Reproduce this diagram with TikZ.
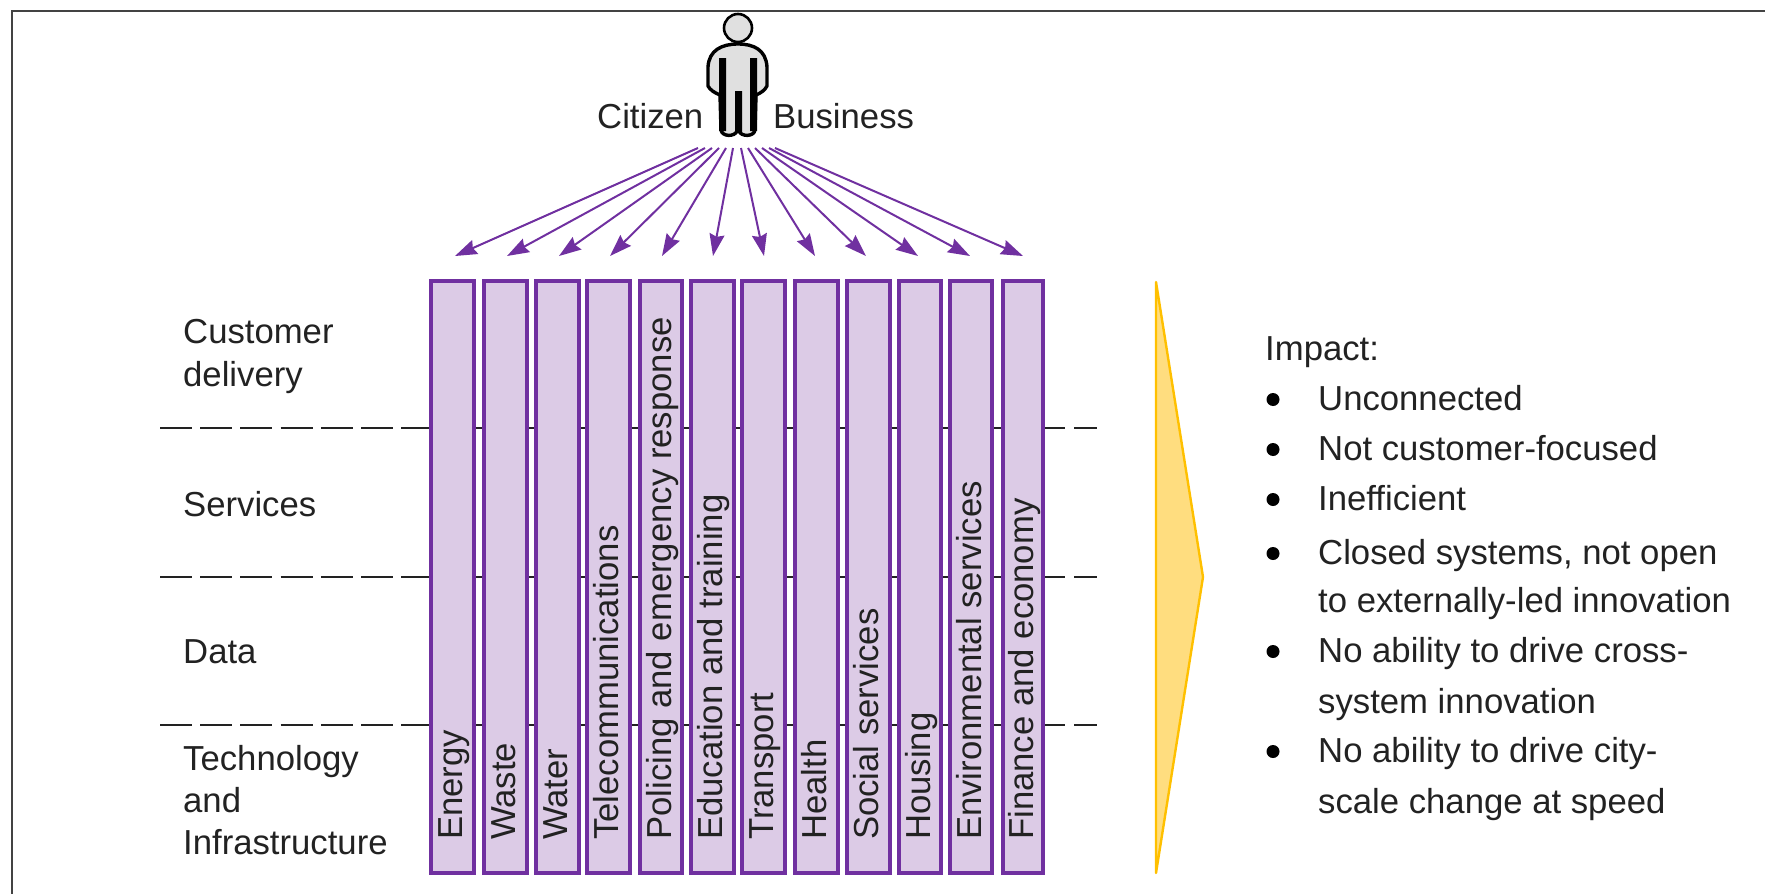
\documentclass[tikz,border=0pt]{standalone}
\usepackage{fontspec}
\setmainfont{Liberation Sans}
\usetikzlibrary{arrows.meta}
\definecolor{barline}{HTML}{7030A0}
\definecolor{barfill}{HTML}{DCCBE6}
\definecolor{goldline}{HTML}{FFC000}
\definecolor{goldfill}{HTML}{FFDD7F}
\definecolor{ink}{HTML}{222222}
\tikzset{
  lbl/.style={font=\fontsize{34.7}{42}\selectfont, text=ink, inner sep=0pt, anchor=base west},
  barbox/.style={draw=barline, line width=4pt, fill=barfill, minimum height=592pt, inner sep=0pt, anchor=north west},
  barlbl/.style={font=\fontsize{34.7}{42}\selectfont, text=ink, inner sep=0pt, rotate=90, anchor=west, text height=25pt, text depth=7.5pt},
  feed/.style={draw=barline, line width=2pt, -{Stealth[length=22pt,width=15pt,inset=2.5pt]}},
  divider/.style={draw=ink, line width=2pt},
  dashdiv/.style={divider, dash pattern=on 32pt off 8.2pt},
}
\begin{document}
\begin{tikzpicture}[x=1pt,y=-1pt]
\useasboundingbox (0,0) rectangle (1765,894);
\draw[draw=ink!85, line width=2.6pt] (1765,11) -- (12,11) -- (12,894);
% dividers
\foreach \y/\n in {428/a,577/b,725/c}{
  \coordinate (l\n) at (160,\y);
  \coordinate (m\n) at (430,\y);
  \coordinate (r\n) at (1045,\y);
  \coordinate (e\n) at (1097,\y);
  \draw[dashdiv] (l\n) -- (m\n);
  \draw[divider] (m\n) -- (r\n);
  \draw[divider, dash pattern=on 20pt off 9pt on 23pt off 9pt] (r\n) -- (e\n);
}
% bars
\foreach \i/\x/\w/\t in {
 1/428.5/43/Energy, 2/482/43/Waste, 3/533.5/43/Water, 4/584.5/43/Telecommunications,
 5/638/42/Policing and emergency response, 6/689/43/Education and training,
 7/739.5/43/Transport, 8/793/43/Health, 9/844.5/43/Social services, 10/897/42/Housing,
 11/948/42/Environmental services, 12/1001/40/Finance and economy}{
  \node[barbox, minimum width=\w pt] (bar\i) at (\x,279) {};
  \node[barlbl] (lab\i) at ([yshift=35pt,xshift=1.5pt]bar\i.south) {\t};
}
% person
\node[circle, draw=black, fill=black!12, line width=2.6pt, minimum size=28pt, inner sep=0pt] (head) at (738,28) {};
\filldraw[draw=black, fill=black!12, line width=3.4pt, line join=round]
  (738,44) .. controls (722,44) and (709,50) .. (708,67)
  -- (708,86) .. controls (710,90) and (715,93) .. (720,95)
  -- (721,130) .. controls (722,137) and (735,137) .. (737,131)
  -- (739,131) .. controls (741,137) and (754,137) .. (755,130)
  -- (756,95) .. controls (761,93) and (765,90) .. (767,86)
  -- (767,67) .. controls (766,50) and (754,44) .. (738,44) -- cycle;
\fill[black] (719,58) rectangle (726,131) (750,58) rectangle (757,131) (735,91) rectangle (742,132);
% person labels
\node[lbl] (cit) at (597,128) {Citizen};
\node[lbl] (bus) at (773,128) {Business};
% feed arrows
\foreach \i/\sx/\ex in {1/698/455,2/705/507,3/712/559,4/719/610,5/726/662,6/733/713,
 7/741/764,8/748/815,9/755/866,10/762/918,11/769/970,12/775/1023}{
  \coordinate (s\i) at (\sx,148);
  \coordinate (t\i) at (\ex,256);
  \draw[feed] (s\i) -- (t\i);
}
% left labels
\node[lbl] (l1) at (183,343) {Customer};
\node[lbl] (l2) at (183,386) {delivery};
\node[lbl] (l3) at (183,516) {Services};
\node[lbl] (l4) at (183,663) {Data};
\node[lbl] (l5) at (183,770) {Technology};
\node[lbl] (l6) at (183,812) {and};
\node[lbl] (l7) at (183,854) {Infrastructure};
% gold arrow
\filldraw[draw=goldline, fill=goldfill, line width=2.4pt, line join=round]
  (1156,282) -- (1203,577) -- (1156,873) -- cycle;
% impact list
\node[lbl] (imp) at (1265,360) {Impact:};
\foreach \y/\t/\b in {
 410/Unconnected/1, 460/Not customer-focused/1, 510/Inefficient/1,
 564/{Closed systems, not open}/1, 612/to externally-led innovation/0,
 662/No ability to drive cross-/1, 713/system innovation/0,
 762/No ability to drive city-/1, 813/scale change at speed/0}{
  \node[lbl] at (1318,\y) {\t};
  \ifnum\b=1 \fill[black] (1273,\y-10.5) circle (6.5pt); \fi
}
\end{tikzpicture}
\end{document}
